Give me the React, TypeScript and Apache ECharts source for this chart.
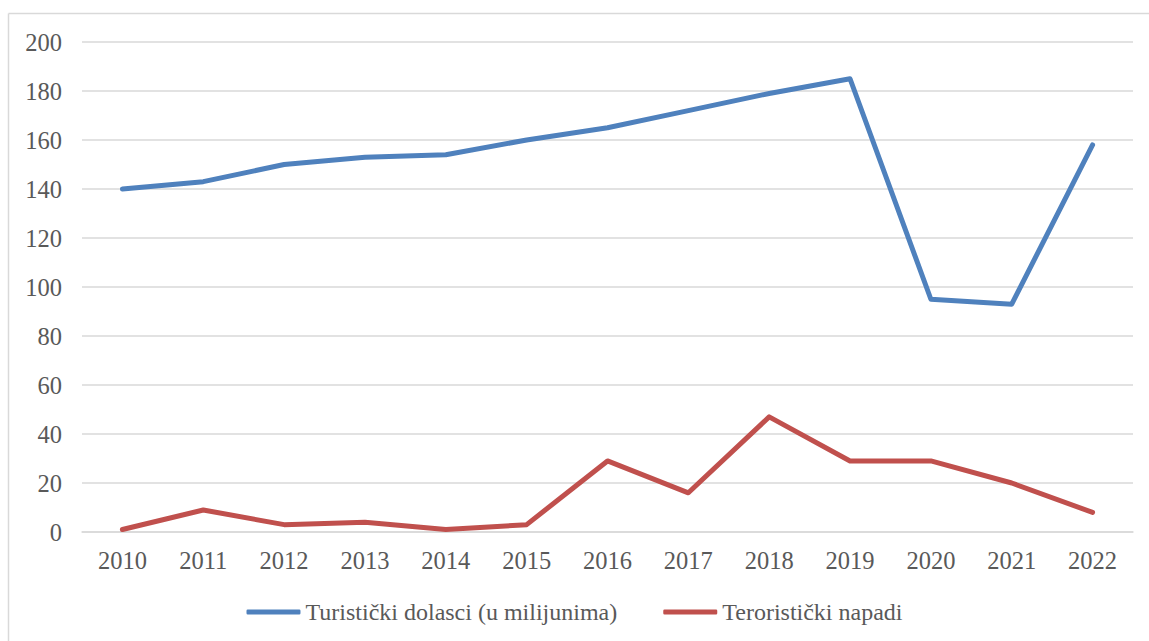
import React, { useEffect, useRef } from "react";
import * as echarts from "echarts";

const years = ["2010", "2011", "2012", "2013", "2014", "2015", "2016", "2017", "2018", "2019", "2020", "2021", "2022"];
const touristArrivals = [140, 143, 150, 153, 154, 160, 165, 172, 179, 185, 95, 93, 158];
const terroristAttacks = [1, 9, 3, 4, 1, 3, 29, 16, 47, 29, 29, 20, 8];
const seriesNames = ["Turistički dolasci (u milijunima)", "Teroristički napadi"];

export default function App() {
  const ref = useRef<HTMLDivElement>(null);
  useEffect(() => {
    if (!ref.current) return;
    const chart = echarts.init(ref.current, null, { renderer: "svg" });
    const font = "'Liberation Serif', 'Times New Roman', serif";
    chart.setOption({
      animation: false,
      backgroundColor: "#ffffff",
      textStyle: { fontFamily: font },
      grid: { left: 82, right: 16, top: 42, bottom: 109 },
      graphic: [
        { type: "line", shape: { x1: 8.5, y1: 13.5, x2: 1149, y2: 13.5 }, style: { stroke: "#d9d9d9", lineWidth: 1.5 } },
        { type: "line", shape: { x1: 8.5, y1: 13.5, x2: 8.5, y2: 641 }, style: { stroke: "#d9d9d9", lineWidth: 1.5 } },
      ],
      legend: {
        bottom: 12,
        left: "center",
        itemWidth: 54,
        itemHeight: 5,
        itemGap: 46,
        textStyle: { fontFamily: font, fontSize: 24, color: "#595959" },
        data: seriesNames.map((n) => ({ name: n, icon: "roundRect" })),
      },
      xAxis: {
        type: "category",
        data: years,
        boundaryGap: true,
        axisLine: { lineStyle: { color: "#d9d9d9", width: 1.5 } },
        axisTick: { show: false },
        axisLabel: { color: "#595959", fontSize: 24.5, fontFamily: font, margin: 16 },
      },
      yAxis: {
        type: "value",
        min: 0,
        max: 200,
        interval: 20,
        axisLine: { show: false },
        axisTick: { show: false },
        splitLine: { lineStyle: { color: "#d9d9d9", width: 1.5 } },
        axisLabel: { color: "#595959", fontSize: 24.5, fontFamily: font, margin: 20 },
      },
      series: [
        {
          name: seriesNames[0],
          type: "line",
          data: touristArrivals,
          symbol: "none",
          lineStyle: { color: "#4f81bd", width: 5, cap: "round", join: "round" },
          itemStyle: { color: "#4f81bd" },
        },
        {
          name: seriesNames[1],
          type: "line",
          data: terroristAttacks,
          symbol: "none",
          lineStyle: { color: "#c0504d", width: 5, cap: "round", join: "round" },
          itemStyle: { color: "#c0504d" },
        },
      ],
    });
    return () => chart.dispose();
  }, []);
  return <div ref={ref} style={{ position: "absolute", left: 0, top: 0, width: 1149, height: 641 }} />;
}
